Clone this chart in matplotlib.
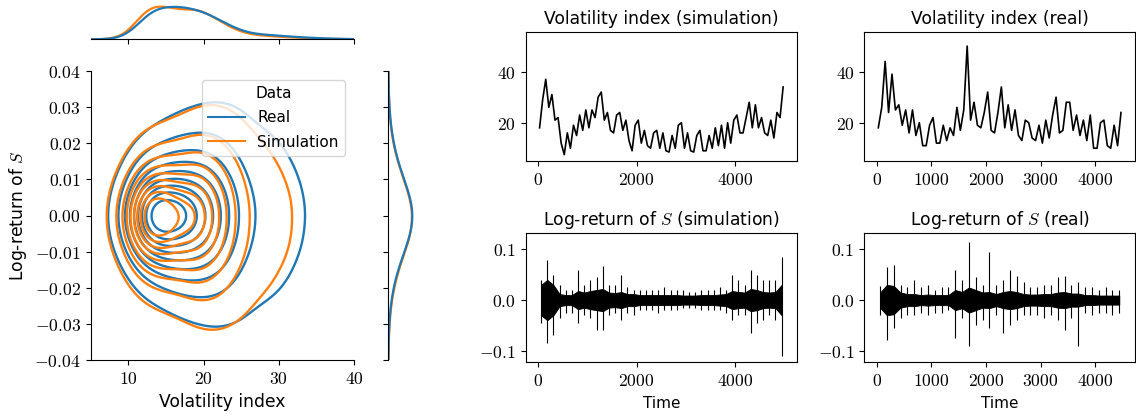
import numpy as np
import pandas as pd
import matplotlib
matplotlib.use("Agg")
import matplotlib.pyplot as plt
import seaborn as sns
from matplotlib.ticker import FuncFormatter, MultipleLocator

# ---------------- values ----------------
# marginal densities (relative heights) of the volatility index, 1 unit apart
vol_grid = np.arange(6, 41)
vol_dens_real = [0, 0.5, 2, 6, 16, 35, 58, 77, 86, 90, 91, 90, 87, 82, 76, 66, 55, 44,
                 33, 25, 18, 15, 13, 11.5, 10, 8.5, 7, 5.5, 4.5, 3.5, 2.5, 2, 1.5, 1, 0.6]
vol_dens_sim = [0, 0.5, 3, 8, 21, 48, 74, 90, 94, 91, 85, 82, 83, 84, 77, 66, 53, 40,
                29, 21, 15, 12, 10, 8.5, 7, 6, 5, 4, 3, 2, 1.5, 1, 0.6, 0.4, 0.2]
# how much wider the log-return spread is at each volatility level
ret_spread = [0.6, 0.6, 0.6, 0.62, 0.64, 0.67, 0.7, 0.73, 0.76, 0.8, 0.84, 0.88, 0.92,
              0.96, 1.0, 1.05, 1.1, 1.16, 1.23, 1.3, 1.37, 1.44, 1.5, 1.55, 1.6, 1.6,
              1.6, 1.6, 1.6, 1.6, 1.6, 1.6, 1.6, 1.6, 1.6]

# marginal densities of the log-return, 0.0025 apart
ret_grid = np.linspace(-0.04, 0.04, 33)
ret_dens_real = [0.3, 0.6, 1.0, 1.8, 3, 4.5, 7, 10.5, 15, 21, 28, 37, 46, 55, 63, 68, 70,
                 68, 62, 54, 45, 36, 28, 21, 15.5, 11, 7.5, 5, 3.3, 2, 1.2, 0.7, 0.4]
ret_dens_sim = [0.4, 0.8, 1.3, 2.2, 3.5, 5.5, 8, 12, 17, 23, 30, 39, 48, 57, 64, 68, 69,
                67, 61, 53, 44, 35, 27, 20, 14.5, 10, 7, 4.5, 3, 1.8, 1.1, 0.6, 0.3]

# time series: lowest / highest value inside each block of 125 time steps
block = 125
sim_vol_low = [18, 26, 21, 12, 7.5, 10, 15, 17, 18, 22, 21, 17, 16, 17, 13, 9, 12, 11, 10, 10,
               9, 8.5, 10, 10, 9, 8.5, 9, 9, 10, 11, 10, 12, 16, 16, 18, 18, 16, 15, 14, 22]
sim_vol_high = [29, 37, 31, 22, 16, 19, 23, 25, 25, 30, 32, 24, 23, 24, 21, 19, 21, 17, 16, 17,
                16, 15, 19, 20, 16, 15, 17, 15, 18, 19, 20, 21, 23, 22, 28, 27, 22, 21, 24, 34]
real_vol_low = [18, 24, 25, 19, 16, 15, 11, 11, 12, 12, 13, 15, 17, 21, 19, 18, 17, 16,
                18, 17, 15, 13, 14, 13, 12, 14, 16, 17, 17, 15, 13, 10, 10, 11, 10, 11]
real_vol_high = [26, 44, 39, 27, 25, 25, 20, 19, 22, 19, 18, 26, 25, 50, 28, 24, 32, 24,
                 34, 27, 25, 21, 20, 19, 21, 23, 30, 28, 28, 23, 21, 23, 20, 21, 19, 24]
sim_ret_low = [-0.045, -0.085, -0.07, -0.035, -0.025, -0.025, -0.045, -0.03, -0.035, -0.06,
               -0.06, -0.03, -0.025, -0.04, -0.025, -0.03, -0.02, -0.02, -0.02, -0.025,
               -0.02, -0.02, -0.02, -0.015, -0.015, -0.015, -0.02, -0.02, -0.02, -0.02,
               -0.025, -0.04, -0.03, -0.03, -0.065, -0.045, -0.04, -0.03, -0.04, -0.11]
sim_ret_high = [0.04, 0.08, 0.05, 0.03, 0.02, 0.02, 0.06, 0.03, 0.04, 0.045,
                0.067, 0.03, 0.03, 0.05, 0.025, 0.02, 0.02, 0.02, 0.02, 0.02,
                0.025, 0.02, 0.02, 0.02, 0.015, 0.015, 0.02, 0.02, 0.02, 0.025,
                0.02, 0.05, 0.04, 0.03, 0.06, 0.05, 0.04, 0.04, 0.04, 0.085]
# half-width of the solid dense core of the log-return band in each block
sim_ret_core = [0.03, 0.04, 0.03, 0.012, 0.01, 0.01, 0.018, 0.015, 0.018, 0.02,
                0.022, 0.015, 0.014, 0.016, 0.012, 0.012, 0.01, 0.01, 0.01, 0.01,
                0.01, 0.01, 0.01, 0.009, 0.009, 0.009, 0.01, 0.01, 0.01, 0.011,
                0.012, 0.018, 0.016, 0.015, 0.022, 0.02, 0.016, 0.015, 0.016, 0.03]
real_ret_low = [-0.03, -0.078, -0.055, -0.035, -0.03, -0.03, -0.025, -0.03, -0.025, -0.025,
                -0.02, -0.075, -0.035, -0.09, -0.05, -0.04, -0.055, -0.03, -0.065, -0.05,
                -0.04, -0.03, -0.03, -0.03, -0.035, -0.03, -0.04, -0.06, -0.035, -0.09,
                -0.025, -0.03, -0.025, -0.025, -0.03, -0.025]
real_ret_high = [0.028, 0.065, 0.07, 0.03, 0.025, 0.04, 0.025, 0.03, 0.02, 0.025,
                 0.025, 0.06, 0.04, 0.115, 0.045, 0.03, 0.095, 0.03, 0.04, 0.06,
                 0.048, 0.035, 0.025, 0.025, 0.03, 0.03, 0.045, 0.048, 0.03, 0.035,
                 0.025, 0.025, 0.02, 0.025, 0.02, 0.02]
real_ret_core = [0.015, 0.03, 0.028, 0.015, 0.012, 0.012, 0.01, 0.011, 0.01, 0.01,
                 0.01, 0.02, 0.016, 0.025, 0.02, 0.015, 0.016, 0.012, 0.016, 0.018,
                 0.016, 0.012, 0.011, 0.011, 0.012, 0.012, 0.015, 0.016, 0.013, 0.013,
                 0.01, 0.01, 0.009, 0.009, 0.009, 0.009]

groups = ["Real", "Simulation"]

plt.rcParams['font.family'] = ['DejaVu Sans']
plt.rcParams['mathtext.fontset'] = 'cm'
TICK = 12.7


def cm_fmt(fmt):
    return FuncFormatter(lambda v, p: r"$\mathrm{%s}$" % (fmt % (round(v, 6) + 0.0)))


def trace(low, high, width):
    # visit the low and high of each block in the order the trend goes
    low = np.asarray(low, float)
    high = np.asarray(high, float)
    mid = (low + high) / 2
    down = np.append(mid[1:], mid[-1]) < mid
    first = np.where(down, high, low)
    second = np.where(down, low, high)
    starts = np.arange(len(low)) * width
    x = np.column_stack([starts + 0.25 * width, starts + 0.75 * width]).ravel()
    y = np.column_stack([first, second]).ravel()
    return x, y


# tables for seaborn
joint_parts, vol_parts, ret_parts = [], [], []
for name, vd, rd in zip(groups, [vol_dens_real, vol_dens_sim], [ret_dens_real, ret_dens_sim]):
    V, R = np.meshgrid(vol_grid, ret_grid)
    K = np.meshgrid(ret_spread, ret_grid)[0]
    W = np.outer(rd, vd)
    joint_parts.append(pd.DataFrame({"vol": V.ravel(), "ret": (R * K).ravel(),
                                     "w": W.ravel() / W.sum(), "Data": name}))
    vd = np.asarray(vd, float)
    rd = np.asarray(rd, float)
    vol_parts.append(pd.DataFrame({"vol": vol_grid, "w": vd / vd.sum(), "Data": name}))
    ret_parts.append(pd.DataFrame({"ret": ret_grid, "w": rd / rd.sum(), "Data": name}))
joint = pd.concat(joint_parts, ignore_index=True)
vol_df = pd.concat(vol_parts, ignore_index=True)
ret_df = pd.concat(ret_parts, ignore_index=True)

W_PX, H_PX = 1136, 416
fig = plt.figure(figsize=(W_PX / 100, H_PX / 100), dpi=100)


def px_axes(x0, y0, x1, y1, **kw):
    return fig.add_axes([x0 / W_PX, 1 - y1 / H_PX, (x1 - x0) / W_PX, (y1 - y0) / H_PX], **kw)


# ---- joint plot ----
ax = px_axes(90.7, 71, 354, 360)
ax_top = px_axes(90.7, 5, 354, 39.3, sharex=ax)
ax_right = px_axes(388.3, 71, 413.5, 360, sharey=ax)

sns.kdeplot(data=joint, x="vol", y="ret", weights="w", hue="Data", hue_order=groups,
            levels=10, bw_adjust=0.6, linewidths=1.7, ax=ax)
sns.kdeplot(data=vol_df, x="vol", weights="w", hue="Data", hue_order=groups,
            bw_adjust=0.35, linewidth=1.6, legend=False, ax=ax_top)
sns.kdeplot(data=ret_df, y="ret", weights="w", hue="Data", hue_order=groups,
            bw_adjust=0.35, linewidth=1.6, legend=False, ax=ax_right)

ax.set_xlim(5, 40)
ax.set_ylim(-0.04, 0.04)
ax.xaxis.set_major_locator(MultipleLocator(10))
ax.yaxis.set_major_locator(MultipleLocator(0.01))
ax.xaxis.set_major_formatter(cm_fmt("%d"))
ax.yaxis.set_major_formatter(cm_fmt("%.2f"))
ax.tick_params(labelsize=TICK)
ax.set_xlabel("Volatility index", fontsize=12.3)
ax.set_ylabel("Log-return of $S$", fontsize=12.3)
for s in ("top", "right"):
    ax.spines[s].set_visible(False)
sns.move_legend(ax, "upper right", fontsize=11, title_fontsize=11,
                labelspacing=0.6, handlelength=2.4, borderaxespad=0.6)

ax_top.set_ylim(0, ax_top.get_ylim()[1])
ax_top.set_xlabel("")
ax_top.set_ylabel("")
ax_top.tick_params(labelbottom=False, left=False, labelleft=False)
for s in ("top", "right", "left"):
    ax_top.spines[s].set_visible(False)

ax_right.set_xlim(0, ax_right.get_xlim()[1])
ax_right.set_xlabel("")
ax_right.set_ylabel("")
ax_right.tick_params(labelleft=False, bottom=False, labelbottom=False)
for s in ("top", "right", "bottom"):
    ax_right.spines[s].set_visible(False)

# ---- time series ----
panels = [
    ((525.7, 32.3, 797, 161), sim_vol_low, sim_vol_high, None, "Volatility index (simulation)", 2000),
    ((864.3, 32.3, 1135, 161), real_vol_low, real_vol_high, None, "Volatility index (real)", 1000),
    ((525.7, 233.3, 797, 362.3), sim_ret_low, sim_ret_high, sim_ret_core,
     "Log-return of $S$ (simulation)", 2000),
    ((864.3, 233.3, 1135, 362.3), real_ret_low, real_ret_high, real_ret_core,
     "Log-return of $S$ (real)", 1000),
]
for box, low, high, core, title, xstep in panels:
    a = px_axes(*box)
    centers = (np.arange(len(low)) + 0.5) * block
    n = len(low) * block
    if core is None:
        x, y = trace(low, high, block)
        a.plot(x, y, color="black", lw=1.2)
        a.set_ylim(5, 55.4)
        a.yaxis.set_major_locator(MultipleLocator(20))
        a.yaxis.set_major_formatter(cm_fmt("%d"))
    else:
        core = np.asarray(core)
        a.fill_between(centers, -core, core, color="black", lw=0.6)
        a.vlines(centers, low, high, color="black", lw=0.8)
        a.set_ylim(-0.123, 0.132)
        a.yaxis.set_major_locator(MultipleLocator(0.1))
        a.yaxis.set_major_formatter(cm_fmt("%.1f"))
        a.set_xlabel("Time", fontsize=11)
    a.set_xlim(-0.05 * n, 1.05 * n)
    a.xaxis.set_major_locator(MultipleLocator(xstep))
    a.xaxis.set_major_formatter(cm_fmt("%d"))
    a.tick_params(labelsize=TICK)
    a.set_title(title, fontsize=12.3)

fig.savefig("out.png", dpi=100)
